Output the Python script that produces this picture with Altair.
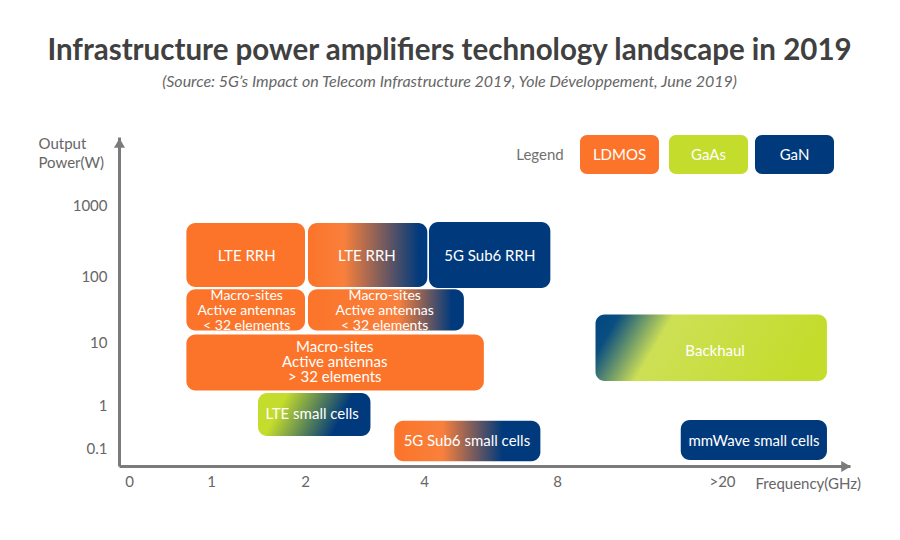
import json
import altair as alt
import pandas as pd

# ---------------- data ----------------
x_ticks = [0, 1, 2, 4, 8, 20]
x_tick_labels = ["0", "1", "2", "4", "8", ">20"]
y_ticks = [0.1, 1, 10, 100, 1000]

box_labels = [
    "LTE RRH",
    "LTE RRH",
    "5G Sub6 RRH",
    "Macro-sites\nActive antennas\n< 32 elements",
    "Macro-sites\nActive antennas\n< 32 elements",
    "Macro-sites\nActive antennas\n> 32 elements",
    "LTE small cells",
    "5G Sub6 small cells",
    "Backhaul",
    "mmWave small cells",
]
box_tech = ["LDMOS", "g_rrh", "GaN", "LDMOS", "g_macro", "LDMOS", "g_small", "g_5gsmall", "g_backhaul", "GaN"]
freq_lo = [0.7, 2.05, 4.15, 0.7, 2.05, 0.7, 1.5, 3.5, 10.8, 17.0]
freq_hi = [2.0, 4.1, 7.8, 2.0, 5.2, 5.8, 3.1, 7.5, 28.2, 28.2]
power_lo = [68, 68, 66, 15, 15, 1.7, 0.19, 0.06, 2.4, 0.063]
power_hi = [560, 560, 575, 63, 63, 13, 1.55, 0.43, 26, 0.45]
label_freq = [1.38, 3.04, 5.98, 1.38, 3.34, 2.5, 2.12, 5.29, 19.5, 22.5]
label_power = [190, 190, 190, 30, 30, 4.8, 0.62, 0.146, 7.3, 0.146]
label_size = [15, 15, 15, 14, 14, 15, 15, 15, 15, 15]

tech_names = ["LDMOS", "GaAs", "GaN"]
tech_colors = ["#FB7429", "#C4DC2C", "#013A7C"]

ORANGE, GREEN, NAVY = tech_colors
FONT = "Lato"
AXIS_GRAY = "#7b7b7b"

df = pd.DataFrame({
    "label": box_labels, "tech": box_tech,
    "f0": freq_lo, "f1": freq_hi, "p0": power_lo, "p1": power_hi,
    "lf": label_freq, "lp": label_power, "ls": label_size,
})

# piecewise scales matching the picture's uneven axes
x_scale = alt.Scale(domain=[-0.122, 0, 1, 2, 4, 8, 20, 30],
                    range=[0, 10, 92, 186, 305, 438, 603, 731], nice=False, zero=False)
y_scale = alt.Scale(type="log", domain=[0.05, 0.1, 1, 10, 100, 1000, 10000],
                    range=[329, 311, 268, 205, 139, 68, 0], nice=False)

x_label_expr = (f"indexof({json.dumps(x_ticks)}, datum.value) >= 0 ? "
                f"{json.dumps(x_tick_labels)}[indexof({json.dumps(x_ticks)}, datum.value)] : ''")

x_axis = alt.Axis(values=x_ticks, labelExpr=x_label_expr, title="Frequency(GHz)", grid=False,
                  ticks=False, tickSize=0, domainColor=AXIS_GRAY, domainWidth=3,
                  labelFont=FONT, labelFontSize=15, labelColor="#666666",
                  titleX=636, titleY=17, titleAlign="left", titleBaseline="middle",
                  titleFont=FONT, titleFontSize=15, titleFontWeight="normal", titleColor="#666666",
                  labelPadding=8, labelBaseline="top")
y_axis = alt.Axis(values=y_ticks, format="~g", title=["Output", "Power(W)"], grid=False,
                  ticks=False, tickSize=0, domainColor=AXIS_GRAY, domainWidth=3,
                  labelFont=FONT, labelFontSize=15, labelColor="#666666",
                  titleAngle=0, titleX=-81, titleY=6, titleAlign="left", titleBaseline="middle",
                  titleFont=FONT, titleFontSize=15, titleFontWeight="normal", titleColor="#666666",
                  titleLineHeight=19, labelPadding=12)

base = alt.Chart(df)

def grad(stops, x2=1, y2=0):
    return alt.Gradient(gradient="linear", x1=0, y1=0, x2=x2, y2=y2,
                        stops=[alt.GradientStop(color=c, offset=o) for o, c in stops])

solid = base.transform_filter(
    alt.FieldOneOfPredicate(field="tech", oneOf=tech_names)
).mark_rect(cornerRadius=9).encode(
    x=alt.X("f0:Q", scale=x_scale, axis=x_axis),
    x2="f1:Q",
    y=alt.Y("p0:Q", scale=y_scale, axis=y_axis),
    y2="p1:Q",
    color=alt.Color("tech:N", scale=alt.Scale(domain=tech_names, range=tech_colors), legend=None),
)

gradients = {
    "g_rrh": grad([(0, ORANGE), (0.3, "#F9803C"), (0.93, NAVY), (1, NAVY)]),
    "g_macro": grad([(0, ORANGE), (0.58, "#F9803C"), (0.92, NAVY), (1, NAVY)]),
    "g_small": grad([(0, GREEN), (0.25, GREEN), (0.82, NAVY), (1, NAVY)], x2=1, y2=0.2),
    "g_5gsmall": grad([(0, ORANGE), (0.33, "#F9803C"), (0.74, NAVY), (1, NAVY)]),
    "g_backhaul": grad([(0, "#00467F"), (0.1, "#0A4E80"), (0.33, "#CDE055"), (1, GREEN)], x2=1, y2=0.17),
}

grad_layers = []
for key, g in gradients.items():
    grad_layers.append(
        base.transform_filter(alt.datum.tech == key).mark_rect(cornerRadius=9, fill=g).encode(
            x=alt.X("f0:Q", scale=x_scale, axis=x_axis), x2="f1:Q",
            y=alt.Y("p0:Q", scale=y_scale, axis=y_axis), y2="p1:Q",
        )
    )

LINE_H = 15
text_enc = dict(
    x=alt.X("lf:Q", scale=x_scale, axis=x_axis),
    y=alt.Y("lp:Q", scale=y_scale, axis=y_axis),
    text="label:N",
    size=alt.Size("ls:Q", scale=None, legend=None),
)
labels_single = base.transform_filter("indexof(datum.label, '\\n') < 0").mark_text(
    color="white", font=FONT, align="center", baseline="middle").encode(**text_enc)
labels_multi = base.transform_filter("indexof(datum.label, '\\n') >= 0").mark_text(
    color="white", font=FONT, lineBreak="\n", lineHeight=LINE_H, dy=-LINE_H,
    align="center", baseline="middle").encode(**text_enc)

one = pd.DataFrame({"k": [0]})
arrow_up = alt.Chart(one).mark_point(shape="triangle-up", filled=True, size=120, color=AXIS_GRAY,
                                     opacity=1).encode(x=alt.value(0.5), y=alt.value(6))
arrow_right = alt.Chart(one).mark_point(shape="triangle-right", filled=True, size=120, color=AXIS_GRAY,
                                        opacity=1).encode(x=alt.value(727), y=alt.value(329.5))

# legend drawn as rounded boxes
legend_layers = [
    alt.Chart(one).mark_text(font=FONT, fontSize=15, color="#707070", align="center", baseline="middle")
    .encode(x=alt.value(421), y=alt.value(18), text=alt.value("Legend"))
]
legend_x = [(461, 540), (550, 629), (636, 715)]
for name, col, (lx0, lx1) in zip(tech_names, tech_colors, legend_x):
    legend_layers.append(alt.Chart(one).mark_rect(cornerRadius=7, color=col).encode(
        x=alt.value(lx0), x2=alt.value(lx1), y=alt.value(-2), y2=alt.value(37)))
    legend_layers.append(alt.Chart(one).mark_text(font=FONT, fontSize=15, color="white",
                                                  align="center", baseline="middle").encode(
        x=alt.value((lx0 + lx1) / 2), y=alt.value(18), text=alt.value(name)))

chart = alt.layer(solid, *grad_layers, labels_single, labels_multi, arrow_up, arrow_right,
                  *legend_layers).properties(
    width=731, height=329,
    background="white",
    autosize=alt.AutoSizeParams(type="none"),
    padding={"left": 111, "top": 129, "right": 42, "bottom": 66},
    title=alt.TitleParams(
        text="Infrastructure power amplifiers technology landscape in 2019",
        subtitle="(Source: 5G’s Impact on Telecom Infrastructure 2019, Yole Développement, June 2019)",
        font=FONT, fontSize=29.5, fontWeight="bold", color="#404040",
        subtitleFont=FONT, subtitleFontSize=16, subtitleFontStyle="italic", subtitleColor="#666666",
        subtitlePadding=8, anchor="middle", dx=-35, offset=44,
    ),
).configure_view(stroke=None).configure_axis(grid=False, ticks=False)

chart.save("out.html", embed_options={"renderer": "svg", "actions": False})
